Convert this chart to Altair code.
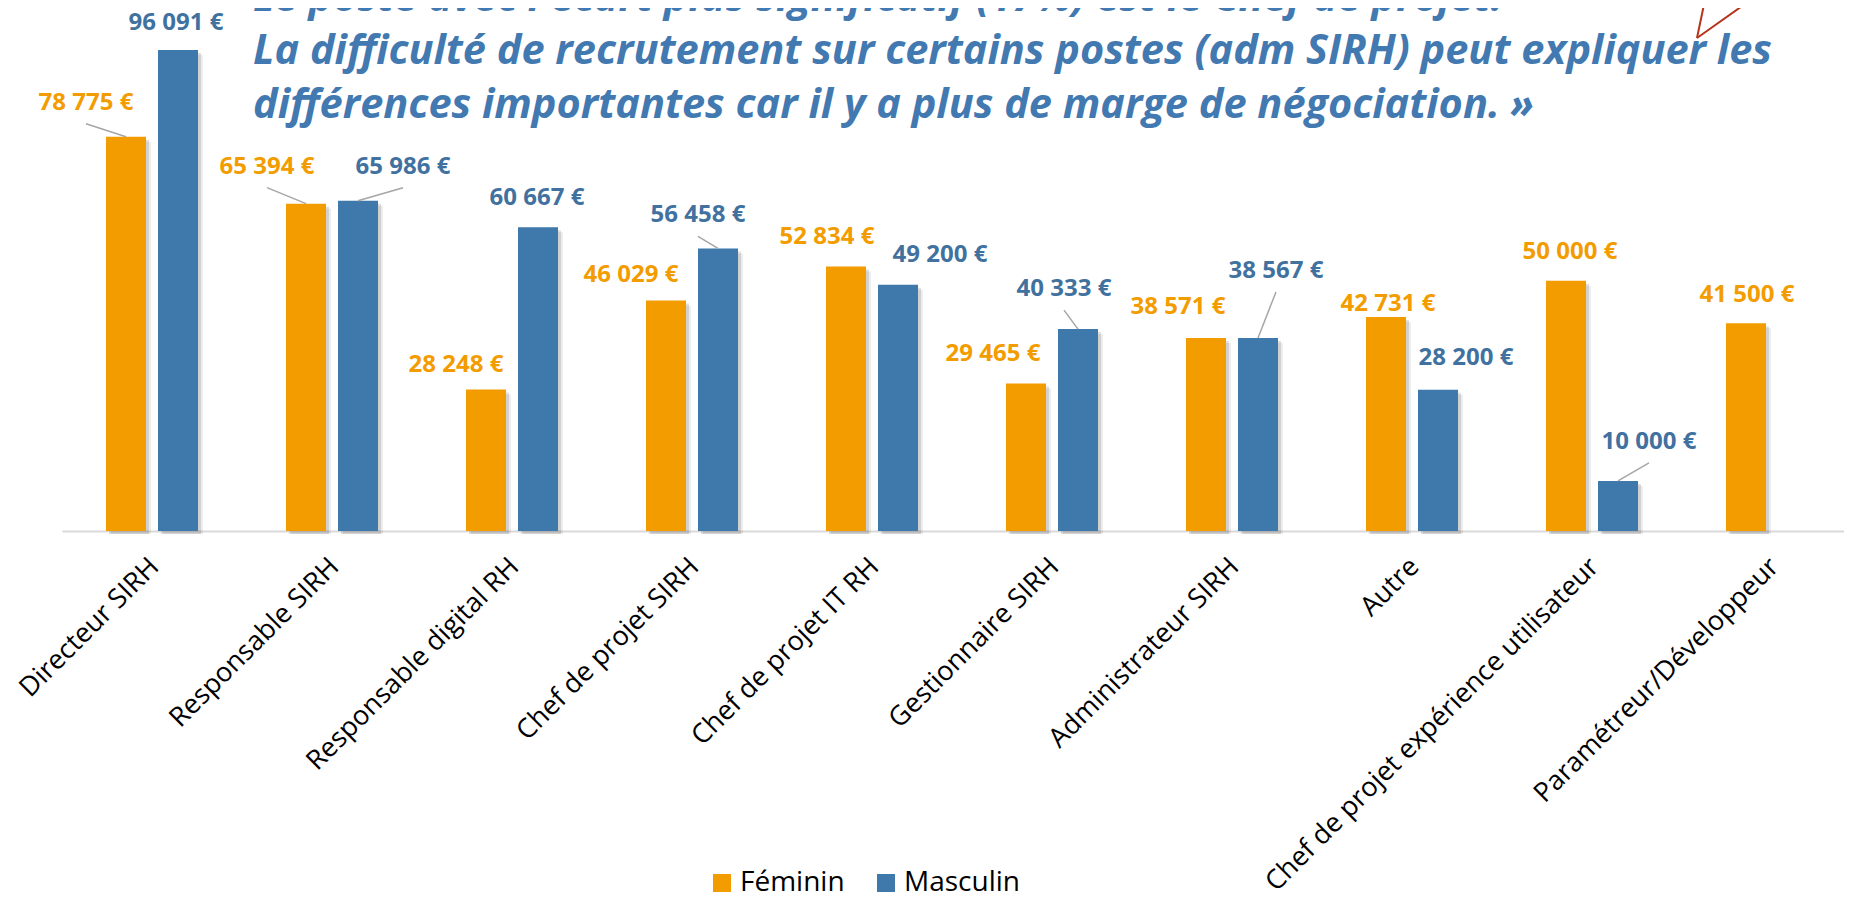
import altair as alt
import pandas as pd

# ---------------- data ----------------
categories = [
    "Directeur SIRH", "Responsable SIRH", "Responsable digital RH", "Chef de projet SIRH",
    "Chef de projet IT RH", "Gestionnaire SIRH", "Administrateur SIRH", "Autre",
    "Chef de projet expérience utilisateur", "Paramétreur/Développeur",
]
series = ["Féminin", "Masculin"]
feminin = [78775, 65394, 28248, 46029, 52834, 29465, 38571, 42731, 50000, 41500]
masculin = [96091, 65986, 60667, 56458, 49200, 40333, 38567, 28200, 10000, None]

title_lines = [
    "Le poste avec l'écart plus significatif (17%) est le Chef de projet.",
    "La difficulté de recrutement sur certains postes (adm SIRH) peut expliquer les",
    "différences importantes car il y a plus de marge de négociation. »",
]

# label placement (pixels): shift from bar centre, rise of label centre above bar top
label_dx_f = [-40, -39, -30, -35, -19, -33, -28, 2, 4, 1]
label_rise_f = [34, 37, 25, 26, 30, 30, 31, 13, 29, 28]
label_dx_m = [-2, 45, -1, -20, 42, -14, 18, 28, 31, 0]
label_rise_m = [27, 34, 29, 33, 30, 40, 67, 32, 39, 0]
leader_f = [True, True, False, False, False, False, False, False, False, False]
leader_m = [False, True, False, True, False, True, True, False, True, False]

# ---------------- style / layout ----------------
ORANGE = "#F39C00"
BLUE = "#3F78AB"
ORANGE_TXT = "#F39C00"
BLUE_TXT = "#41719F"
TITLE_BLUE = "#4279B0"
BUBBLE_RED = "#B5341A"
FONT = "Open Sans"

PXU = 180.0            # pixels per category slot
X_DOMAIN = [-0.5, 9.4]
W = int(round((X_DOMAIN[1] - X_DOMAIN[0]) * PXU))
H = 523
YMAX = 104481
YPX = H / YMAX
OFF = 26 / PXU
HW = 20 / PXU


def fmt(v):
    return f"{v:,}".replace(",", " ") + " €"


rows = []
for i, c in enumerate(categories):
    for s, vals, dxs, rises, leads in (
        (series[0], feminin, label_dx_f, label_rise_f, leader_f),
        (series[1], masculin, label_dx_m, label_rise_m, leader_m),
    ):
        v = vals[i]
        if v is None:
            continue
        rows.append(dict(cat=c, idx=i, sex=s, value=v, label=fmt(v),
                         ldx=dxs[i], lrise=rises[i], leader=leads[i]))
df = pd.DataFrame(rows)

xs = alt.Scale(domain=X_DOMAIN, nice=False, zero=False)
ys = alt.Scale(domain=[0, YMAX], nice=False, zero=True)

label_expr = "[" + ",".join("'" + c + "'" for c in categories) + "][datum.value]"
x_axis = alt.Axis(
    values=list(range(len(categories))), labelExpr=label_expr,
    labelAngle=315, labelAlign="right", labelBaseline="top",
    labelPadding=22, labelOffset=-7, labelFont=FONT, labelFontSize=27,
    labelColor="#000000", labelFlush=False, labelOverlap=False, labelLimit=1000,
    ticks=False, grid=False, domainColor="#D9D9D9", domainWidth=2, title=None)

base = alt.Chart(df).transform_calculate(
    xc=f"datum.idx + (datum.sex == '{series[0]}' ? {-OFF} : {OFF})"
).transform_calculate(
    x0=f"datum.xc - {HW}",
    x1=f"datum.xc + {HW}",
    lx=f"datum.xc + datum.ldx / {PXU}",
    ly=f"datum.value + datum.lrise / {YPX}",
).transform_calculate(
    lead_y=f"datum.ly - 21 / {YPX}",
)


def shadow(px, opacity):
    return base.transform_calculate(
        sx0=f"datum.x0 + {px / PXU}",
        sx1=f"datum.x1 + {px / PXU}",
        sy=f"datum.value - {px / YPX}",
    ).mark_bar(color="#000000", opacity=opacity).encode(
        x=alt.X("sx0:Q", scale=xs, axis=x_axis),
        x2="sx1:Q",
        y=alt.Y("sy:Q", scale=ys, axis=None),
        y2=alt.datum(-3 / YPX),
    )


bars = base.mark_bar().encode(
    x=alt.X("x0:Q", scale=xs, axis=x_axis),
    x2="x1:Q",
    y=alt.Y("value:Q", scale=ys, axis=None),
    y2=alt.datum(0),
    color=alt.Color("sex:N", scale=alt.Scale(domain=series, range=[ORANGE, BLUE]),
                    legend=alt.Legend(orient="none", direction="horizontal",
                                      legendX=646, legendY=861, title=None,
                                      symbolType="square", symbolSize=324,
                                      symbolStrokeWidth=0, symbolOpacity=1,
                                      labelFont=FONT, labelFontSize=28,
                                      labelColor="#000000", labelOffset=4,
                                      columnPadding=27)),
)

leaders = base.transform_filter("datum.leader").mark_rule(
    color="#A6A6A6", strokeWidth=1.5
).encode(
    x=alt.X("lx:Q", scale=xs, axis=x_axis), x2="xc:Q",
    y=alt.Y("lead_y:Q", scale=ys, axis=None), y2="value:Q",
)

labels = base.mark_text(
    font=FONT, fontWeight="bold", fontSize=24, baseline="middle", align="center"
).encode(
    x=alt.X("lx:Q", scale=xs, axis=x_axis),
    y=alt.Y("ly:Q", scale=ys, axis=None),
    text="label:N",
    color=alt.condition(f"datum.sex == '{series[0]}'", alt.value(ORANGE_TXT), alt.value(BLUE_TXT)),
)

title_y = [3, 56, 110]
titles = []
for line, ty in zip(title_lines, title_y):
    titles.append(
        alt.Chart(pd.DataFrame({"t": [line]})).mark_text(
            font=FONT, fontWeight="bold", fontStyle="italic", fontSize=41.5,
            color=TITLE_BLUE, align="left", baseline="alphabetic"
        ).encode(x=alt.value(191), y=alt.value(ty), text="t:N")
    )

bubble_segments = [((1645, -18), (1635, 30)), ((1635, 30), (1683, -4))]
bubble = []
for (ax, ay), (bx, by) in bubble_segments:
    bubble.append(
        alt.Chart(pd.DataFrame({"k": [0]})).mark_rule(color=BUBBLE_RED, strokeWidth=2).encode(
            x=alt.value(ax), y=alt.value(ay), x2=alt.value(bx), y2=alt.value(by)
        )
    )

chart = alt.layer(
    shadow(5, 0.07), shadow(3, 0.12), bars, leaders, labels, *titles, *bubble
).properties(
    width=W, height=H,
    autosize=alt.AutoSizeParams(type="none"),
    padding={"left": 54, "top": 0, "right": 0, "bottom": 362},
    background="white",
).configure_view(stroke=None)

chart.save("out.html", embed_options={"renderer": "svg", "actions": False})
